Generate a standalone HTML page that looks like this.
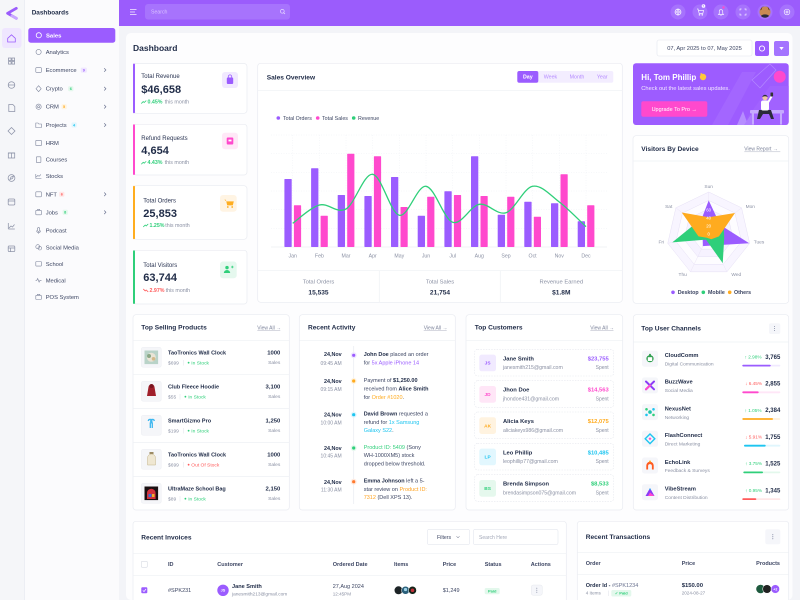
<!DOCTYPE html>
<html><head><meta charset="utf-8"><style>
html,body{margin:0;padding:0;background:#fff;width:800px;height:600px;overflow:hidden;}
svg{display:block;font-family:"Liberation Sans",sans-serif;overflow:hidden;}
</style></head><body>
<svg width="800" height="600" viewBox="0 0 800 600" xmlns="http://www.w3.org/2000/svg">
<defs>
<clipPath id="bn"><rect x="633" y="63.3" width="155.7" height="61.7" rx="3"/></clipPath>
</defs>
<rect width="800" height="600" fill="#f3f4f8"/>
<rect x="0" y="0" width="24.5" height="600" fill="#f5f6f9"/>
<line x1="24.5" y1="0" x2="24.5" y2="600" stroke="#e8eaf0" stroke-width="0.6"/>
<rect x="25" y="0" width="94" height="600" fill="#fbfbfd"/>
<rect x="119" y="0" width="681" height="26" fill="#9b5cfc"/>
<rect x="126" y="33" width="666.5" height="567" rx="5" fill="#fdfdfe"/>

<!-- logo -->
<path d="M16.3 8.3 L7.6 13.3 L16.3 18.3" fill="none" stroke="#9b5cfc" stroke-width="2.8" stroke-linejoin="round" stroke-linecap="round"/>
<path d="M12 15.8 L16.3 18.3" stroke="#c9a8ff" stroke-width="2.8" stroke-linecap="round"/>

<!-- rail -->
<rect x="2" y="28" width="19.5" height="20" rx="3" fill="#efe6ff"/>
<path d="M7.7 38.3 L11.5 34.8 L15.3 38.3 V42 H7.7 Z" fill="none" stroke="#9b5cfc" stroke-width="0.8"/>
<g fill="none" stroke="#8d93a8" stroke-width="0.75">
<rect x="8.5" y="58" width="2.6" height="2.6"/><rect x="12" y="58" width="2.6" height="2.6"/><rect x="8.5" y="61.5" width="2.6" height="2.6"/><rect x="12" y="61.5" width="2.6" height="2.6"/>
<circle cx="11.5" cy="85" r="3.3"/><line x1="8.2" y1="85" x2="14.8" y2="85"/>
<path d="M8.8 104.5 h4 l2 2 v5 h-6 z"/>
<path d="M11.5 127.5 l3.5 3.5 l-3.5 3.5 l-3.5 -3.5 z"/>
<rect x="8.3" y="153" width="6.4" height="5" /><line x1="11.5" y1="153" x2="11.5" y2="158"/><line x1="8" y1="153" x2="15" y2="153"/>
<circle cx="11.5" cy="178" r="3.4"/><path d="M10 179.5 l1-2.5 l2.5-1 l-1 2.5 z"/>
<rect x="8.2" y="199" width="6.6" height="6" rx="1"/><line x1="8.2" y1="201" x2="14.8" y2="201"/>
<path d="M8.3 229 v-6 M8.3 229 h6.5 M9 228 l2-2 l1.5 1 l2-2.5"/>
<rect x="8.2" y="246" width="6.6" height="5.6" rx="0.8"/><line x1="8.2" y1="248" x2="14.8" y2="248"/><line x1="10.5" y1="248" x2="10.5" y2="251.6"/>
</g>

<!-- sidebar -->
<text x="31.7" y="14.5" font-size="6.4" font-weight="700" fill="#1f2b47">Dashboards</text>
<rect x="28.3" y="28" width="87" height="14.7" rx="2.5" fill="#9b5cff"/>
<circle cx="38.8" cy="35.3" r="2.6" fill="none" stroke="#fff" stroke-width="0.8"/>
<text x="46" y="37.4" font-size="5.9" font-weight="700" fill="#fff">Sales</text>
<g fill="none" stroke="#7d849b" stroke-width="0.6">
<circle cx="38.6" cy="52" r="2.6"/>
<rect x="35.8" y="67.7" width="5.6" height="4.6" rx="0.6"/>
<path d="M38.6 85.7 l2.6 3 l-2.6 3 l-2.6 -3 z"/>
<circle cx="38.6" cy="106.7" r="2.6"/><circle cx="38.6" cy="106.7" r="1"/>
<path d="M35.8 123 h2.2 l0.8 1 h2.6 v3.5 h-5.6 z"/>
<rect x="35.8" y="140.3" width="5.6" height="5.4" rx="0.6"/>
<rect x="36.3" y="156.8" width="4.6" height="5.8" rx="0.6"/>
<path d="M35.8 178.5 v-4.5 M35.8 178.5 h5.6 M36.3 177 l1.5 -1.5 l1.3 0.8 l1.8 -1.8"/>
<rect x="35.8" y="191.8" width="5.6" height="5" rx="0.6"/>
<rect x="35.8" y="210.3" width="5.6" height="4.5" rx="0.6"/><path d="M37.6 210.3 v-1 h2 v1"/>
<rect x="37.5" y="227.6" width="2.2" height="3.8" rx="1.1"/><path d="M36.5 230.5 a2.1 2.1 0 0 0 4.2 0 M38.6 232.6 v1.2"/>
<circle cx="37.8" cy="246.7" r="2"/><circle cx="39.8" cy="248.2" r="1.8"/>
<rect x="35.8" y="261.5" width="5.6" height="4.6" rx="0.6"/>
<path d="M35.6 280.3 h1.2 l0.9 -1.8 l1.4 3.6 l0.9 -1.8 h1.5"/>
<rect x="35.8" y="295.3" width="5.6" height="4.2" rx="0.6"/><path d="M37.4 295.3 v-1 h2.4 v1"/>
</g>
<g font-size="5.8" fill="#3d4663">
<text x="45.7" y="54">Analytics</text>
<text x="45.7" y="72">Ecommerce</text>
<text x="45.7" y="90.7">Crypto</text>
<text x="45.7" y="108.7">CRM</text>
<text x="45.7" y="127">Projects</text>
<text x="45.7" y="145">HRM</text>
<text x="45.7" y="161.7">Courses</text>
<text x="45.7" y="178">Stocks</text>
<text x="45.7" y="196.3">NFT</text>
<text x="45.7" y="214.3">Jobs</text>
<text x="45.7" y="232.7">Podcast</text>
<text x="45.7" y="249.3">Social Media</text>
<text x="45.7" y="266">School</text>
<text x="45.7" y="282.3">Medical</text>
<text x="45.7" y="299">POS System</text>
</g>
<g font-size="3.8" font-weight="700" text-anchor="middle">
<rect x="80.8" y="67.6" width="6" height="5" rx="1" fill="#efe6ff"/><text x="83.8" y="71.4" fill="#9b5cff">9</text>
<rect x="68.2" y="86.2" width="5.2" height="5" rx="1" fill="#e3f8ec"/><text x="70.8" y="90" fill="#2fcf7a">6</text>
<rect x="61.5" y="104.2" width="5.2" height="5" rx="1" fill="#fff3df"/><text x="64.1" y="108" fill="#ffab1f">5</text>
<rect x="71.5" y="122.5" width="5.2" height="5" rx="1" fill="#e0f6fd"/><text x="74.1" y="126.3" fill="#1ec5f0">4</text>
<rect x="59.2" y="191.8" width="5.2" height="5" rx="1" fill="#ffe7e7"/><text x="61.8" y="195.6" fill="#ff5a5a">6</text>
<rect x="62.6" y="209.8" width="5.2" height="5" rx="1" fill="#e3f8ec"/><text x="65.2" y="213.6" fill="#2fcf7a">8</text>
</g>
<g fill="none" stroke="#6b7390" stroke-width="0.7">
<polyline points="104.2,68.2 105.9,70 104.2,71.8"/>
<polyline points="104.2,86.9 105.9,88.7 104.2,90.5"/>
<polyline points="104.2,104.9 105.9,106.7 104.2,108.5"/>
<polyline points="104.2,123.2 105.9,125 104.2,126.8"/>
<polyline points="104.2,192.5 105.9,194.3 104.2,196.1"/>
<polyline points="104.2,210.5 105.9,212.3 104.2,214.1"/>
</g>

<!-- header -->
<g stroke="#fff" stroke-width="0.8" opacity="0.85"><line x1="130" y1="9.5" x2="136.5" y2="9.5"/><line x1="130" y1="12" x2="135" y2="12"/><line x1="130" y1="14.5" x2="136.5" y2="14.5"/></g>
<rect x="145" y="4" width="145" height="15.5" rx="3" fill="#a773fd"/>
<text x="151" y="13.6" font-size="5.2" fill="#d9c4ff">Search</text>
<circle cx="282.3" cy="11.3" r="1.9" fill="none" stroke="#e8dcff" stroke-width="0.7"/><line x1="283.7" y1="12.7" x2="285" y2="14" stroke="#e8dcff" stroke-width="0.7"/>
<g fill="#a672fd">
<circle cx="678" cy="12" r="7.5"/><circle cx="700" cy="12" r="7.5"/><circle cx="721" cy="12" r="7.5"/><circle cx="743" cy="12" r="7.5"/><circle cx="765" cy="12" r="7.5"/><circle cx="787" cy="12" r="7.5"/>
</g>
<g fill="none" stroke="#fff" stroke-width="0.7" opacity="0.9">
<circle cx="678" cy="12" r="3"/><path d="M675 12 h6 M678 9 c-1.5 2 -1.5 4 0 6 c1.5 -2 1.5 -4 0 -6"/>
<path d="M697 9 h1 l1.2 4.5 h3.6 l0.8 -3 h-5"/><circle cx="699.5" cy="14.8" r="0.5"/><circle cx="702.3" cy="14.8" r="0.5"/>
<path d="M718.5 14.5 h5 l-0.8 -1 v-2.2 a1.7 1.7 0 0 0 -3.4 0 v2.2 z M720.5 15.5 h1"/>
<path d="M740 10.5 v-1.5 h1.5 M744.5 9 h1.5 v1.5 M746 13.5 v1.5 h-1.5 M741.5 15 h-1.5 v-1.5"/>
<circle cx="787" cy="12" r="2.8"/><circle cx="787" cy="12" r="1"/>
</g>
<circle cx="703.5" cy="6" r="1.8" fill="#fff"/><text x="703.5" y="7.2" font-size="3" text-anchor="middle" fill="#9b5cfc">5</text>
<circle cx="723.5" cy="7.5" r="1.2" fill="#ff49cd"/>
<circle cx="765" cy="12" r="5.5" fill="#c98a54"/><path d="M760.5 10.5 a4.5 4.5 0 0 1 9 0 l-1 -1 a3.5 3.5 0 0 0 -7 0 z" fill="#3a2418"/><path d="M761 16 a4.5 3 0 0 1 8 0 a5.5 5.5 0 0 1 -8 0z" fill="#2c2c3c"/>

<!-- title row -->
<text x="133" y="51" font-size="8.5" font-weight="700" fill="#1f2b47">Dashboard</text>
<rect x="657" y="40" width="95" height="16" rx="2" fill="#fff" stroke="#e3e6ee" stroke-width="0.6"/>
<text x="704.5" y="50" font-size="5.7" text-anchor="middle" fill="#3d4663">07, Apr 2025 to 07, May 2025</text>
<rect x="755" y="41" width="14" height="15" rx="2" fill="#9b5cff"/>
<circle cx="762" cy="48.5" r="2.6" fill="none" stroke="#fff" stroke-width="0.9"/>
<rect x="774" y="41" width="15" height="15" rx="2" fill="#a474ff"/>
<path d="M779.3 47 h4.4 l-2.2 3 z" fill="#fff"/>

<!-- stat cards -->
<g stroke="#e9ebf1" stroke-width="0.7" fill="#fff">
<rect x="133.5" y="63.5" width="113.5" height="49.8" rx="3"/>
<rect x="133.5" y="124.3" width="113.5" height="50.7" rx="3"/>
<rect x="133.5" y="185.7" width="113.5" height="53.6" rx="3"/>
<rect x="133.5" y="250.3" width="113.5" height="53.7" rx="3"/>
</g>
<rect x="133" y="63.5" width="2" height="49.8" rx="1" fill="#9b5cff"/>
<rect x="133" y="124.3" width="2" height="50.7" rx="1" fill="#ff49cd"/>
<rect x="133" y="185.7" width="2" height="53.6" rx="1" fill="#ffad1f"/>
<rect x="133" y="250.3" width="2" height="53.7" rx="1" fill="#2fcf7a"/>
<g font-size="6" fill="#2a3452">
<text x="141.3" y="78.1">Total Revenue</text>
<text x="141.3" y="139.8">Refund Requests</text>
<text x="143.3" y="202.4">Total Orders</text>
<text x="143.3" y="267.1">Total Visitors</text>
</g>
<g font-size="11" font-weight="700" fill="#1f2b47">
<text x="141.3" y="92.9">$46,658</text>
<text x="141.3" y="153.9">4,654</text>
<text x="143.3" y="216.9">25,853</text>
<text x="143.3" y="281.2">63,744</text>
</g>
<g fill="none" stroke-width="0.8" stroke-linecap="round">
<polyline points="141.5,103.3 143.2,101.6 144.2,102.5 146,100.8" stroke="#2fcf7a"/>
<polyline points="141.5,164 143.2,162.3 144.2,163.2 146,161.5" stroke="#2fcf7a"/>
<polyline points="143.5,226.7 145.2,225 146.2,225.9 148,224.2" stroke="#2fcf7a"/>
<polyline points="143.5,289.2 145.2,290.9 146.2,290 148,291.7" stroke="#ff5a5a"/>
</g>
<g font-size="5.3" font-weight="700">
<text x="147.5" y="103.6" fill="#2fcf7a">0.45%</text>
<text x="147.5" y="164.2" fill="#2fcf7a">4.43%</text>
<text x="149.5" y="226.9" fill="#2fcf7a">1.25%</text>
<text x="149.5" y="291.9" fill="#ff5a5a">2.97%</text>
</g>
<g font-size="5.3" fill="#8a90a3">
<text x="164.7" y="103.6">this month</text>
<text x="164.7" y="164.2">this month</text>
<text x="165.3" y="226.9">this month</text>
<text x="165.7" y="291.9">this month</text>
</g>
<rect x="222" y="72" width="16" height="16" rx="3" fill="#f1e9ff"/>
<rect x="226.8" y="77.5" width="6.4" height="6.5" rx="1" fill="#9b5cff"/>
<path d="M228.3 77.6 v-1 a1.7 1.7 0 0 1 3.4 0 v1" fill="none" stroke="#9b5cff" stroke-width="0.8"/>
<rect x="222" y="132.7" width="16" height="16.6" rx="3" fill="#ffe8f7"/>
<rect x="226.7" y="137.5" width="6.6" height="7" rx="1" fill="#ff49cd"/>
<rect x="228.5" y="139.6" width="3" height="1.8" fill="#fff"/>
<rect x="220" y="195" width="16.7" height="16.7" rx="3" fill="#fff4e3"/>
<path d="M224.3 199.8 h1.6 l1.3 5.6 h5.6 l1 -4 h-7.2 z" fill="#ffad1f"/>
<circle cx="227.8" cy="207" r="0.9" fill="#ffad1f"/><circle cx="232.2" cy="207" r="0.9" fill="#ffad1f"/>
<rect x="220" y="261.5" width="16.7" height="16.7" rx="3" fill="#e5f8ee"/>
<circle cx="227" cy="267.6" r="1.7" fill="#2fcf7a"/><path d="M223.8 273 a3.2 3 0 0 1 6.4 0 z" fill="#2fcf7a"/>
<path d="M231 267 h2.6 M232.3 265.7 v2.6" stroke="#2fcf7a" stroke-width="0.8"/>

<!-- sales overview -->
<rect x="257.7" y="63.3" width="364.6" height="239" rx="3" fill="#fff" stroke="#e9ebf1" stroke-width="0.7"/>
<line x1="257.7" y1="90.7" x2="622.3" y2="90.7" stroke="#eef0f4" stroke-width="0.7"/>
<text x="266.7" y="79.3" font-size="6.6" font-weight="700" fill="#1f2b47">Sales Overview</text>
<rect x="517.3" y="71" width="96" height="11.7" rx="2" fill="#f3edff"/>
<rect x="517.3" y="71" width="21" height="11.7" rx="2" fill="#9b5cff"/>
<g font-size="5.3" text-anchor="middle">
<text x="527.8" y="78.7" fill="#fff" font-weight="700">Day</text>
<text x="550.5" y="78.7" fill="#b68cff">Week</text>
<text x="577" y="78.7" fill="#b68cff">Month</text>
<text x="602.2" y="78.7" fill="#b68cff">Year</text>
</g>
<circle cx="278.3" cy="118" r="1.8" fill="#9b5cff"/><circle cx="317.7" cy="118" r="1.8" fill="#ff49cd"/><circle cx="353.7" cy="118" r="1.8" fill="#2fcf7a"/>
<g font-size="5.3" fill="#3d4663"><text x="283" y="119.9">Total Orders</text><text x="322" y="119.9">Total Sales</text><text x="358" y="119.9">Revenue</text></g>
<g stroke="#eef0f5" stroke-width="0.5" stroke-dasharray="1 1.5">
<line x1="271" y1="135" x2="607" y2="135"/><line x1="271" y1="153.7" x2="607" y2="153.7"/><line x1="271" y1="172.3" x2="607" y2="172.3"/><line x1="271" y1="191" x2="607" y2="191"/><line x1="271" y1="209.7" x2="607" y2="209.7"/><line x1="271" y1="228.3" x2="607" y2="228.3"/>
<line x1="292.7" y1="135" x2="292.7" y2="247"/><line x1="319.4" y1="135" x2="319.4" y2="247"/><line x1="346" y1="135" x2="346" y2="247"/><line x1="372.7" y1="135" x2="372.7" y2="247"/><line x1="399.3" y1="135" x2="399.3" y2="247"/><line x1="426" y1="135" x2="426" y2="247"/><line x1="452.7" y1="135" x2="452.7" y2="247"/><line x1="479.3" y1="135" x2="479.3" y2="247"/><line x1="506" y1="135" x2="506" y2="247"/><line x1="532.6" y1="135" x2="532.6" y2="247"/><line x1="559.3" y1="135" x2="559.3" y2="247"/><line x1="586" y1="135" x2="586" y2="247"/>
</g>
<line x1="271" y1="247" x2="607" y2="247" stroke="#e6e8ee" stroke-width="0.6"/>
<g fill="#9b5cff">
<rect x="284.4" y="179" width="7.3" height="68" rx="0.6"/>
<rect x="311.1" y="168.3" width="7.3" height="78.7" rx="0.6"/>
<rect x="337.7" y="195" width="7.3" height="52" rx="0.6"/>
<rect x="364.4" y="196" width="7.3" height="51" rx="0.6"/>
<rect x="391" y="177" width="7.3" height="70" rx="0.6"/>
<rect x="417.7" y="215.7" width="7.3" height="31.3" rx="0.6"/>
<rect x="444.4" y="191.3" width="7.3" height="55.7" rx="0.6"/>
<rect x="471" y="156.3" width="7.3" height="90.7" rx="0.6"/>
<rect x="497.7" y="214.7" width="7.3" height="32.3" rx="0.6"/>
<rect x="524.3" y="201.7" width="7.3" height="45.3" rx="0.6"/>
<rect x="551" y="203.3" width="7.3" height="43.7" rx="0.6"/>
<rect x="577.7" y="221.3" width="7.3" height="25.7" rx="0.6"/>
</g>
<g fill="#ff49cd">
<rect x="293.9" y="205.3" width="7.2" height="41.7" rx="0.6"/>
<rect x="320.6" y="215.7" width="7.2" height="31.3" rx="0.6"/>
<rect x="347.2" y="153.7" width="7.2" height="93.3" rx="0.6"/>
<rect x="373.9" y="156.3" width="7.2" height="90.7" rx="0.6"/>
<rect x="400.5" y="207" width="7.2" height="40" rx="0.6"/>
<rect x="427.2" y="196.7" width="7.2" height="50.3" rx="0.6"/>
<rect x="453.9" y="195" width="7.2" height="52" rx="0.6"/>
<rect x="480.5" y="196" width="7.2" height="51" rx="0.6"/>
<rect x="507.2" y="196.7" width="7.2" height="50.3" rx="0.6"/>
<rect x="533.8" y="216.7" width="7.2" height="30.3" rx="0.6"/>
<rect x="560.5" y="174.3" width="7.2" height="72.7" rx="0.6"/>
<rect x="587.2" y="205.3" width="7.2" height="41.7" rx="0.6"/>
</g>
<path d="M292.7,223.3 C297.14,220.25 310.51,207.38 319.4,205 C328.29,202.62 337.11,214.12 346,209 C354.89,203.88 363.81,173.25 372.7,174.3 C381.59,175.35 390.41,213.3 399.3,215.3 C408.19,217.3 417.11,185.13 426,186.3 C434.89,187.47 443.81,219.3 452.7,222.3 C461.59,225.3 470.41,205.9 479.3,204.3 C488.19,202.7 497.11,215.7 506,212.7 C514.89,209.7 523.71,188.08 532.6,186.3 C541.49,184.52 550.41,195.27 559.3,202 C568.19,208.73 581.56,222.58 586,226.7" fill="none" stroke="#2fcf7a" stroke-width="1.3"/>
<g font-size="5.2" fill="#8a90a3" text-anchor="middle">
<text x="292.7" y="257.5">Jan</text><text x="319.4" y="257.5">Feb</text><text x="346" y="257.5">Mar</text><text x="372.7" y="257.5">Apr</text><text x="399.3" y="257.5">May</text><text x="426" y="257.5">Jun</text><text x="452.7" y="257.5">Jul</text><text x="479.3" y="257.5">Aug</text><text x="506" y="257.5">Sep</text><text x="532.6" y="257.5">Oct</text><text x="559.3" y="257.5">Nov</text><text x="586" y="257.5">Dec</text>
</g>
<g stroke="#eef0f4" stroke-width="0.7">
<line x1="257.7" y1="270.7" x2="622.3" y2="270.7"/><line x1="379.3" y1="270.7" x2="379.3" y2="302.3"/><line x1="500.3" y1="270.7" x2="500.3" y2="302.3"/>
</g>
<g font-size="5.8" fill="#8a90a3" text-anchor="middle">
<text x="318.5" y="283.7">Total Orders</text><text x="440" y="283.7">Total Sales</text><text x="561.3" y="283.7">Revenue Earned</text>
</g>
<g font-size="6.6" font-weight="700" fill="#1f2b47" text-anchor="middle">
<text x="318.5" y="294.7">15,535</text><text x="440" y="294.7">21,754</text><text x="561.3" y="294.7">$1.8M</text>
</g>

<!-- banner -->
<rect x="633" y="63.3" width="155.7" height="61.7" rx="3" fill="#9d5cff"/>
<g clip-path="url(#bn)">
<polygon points="712,125 742,72 756,72 728,125" fill="#a56bff" opacity="0.7"/>
<polygon points="742,125 770,86 790,86 790,125" fill="#a264ff" opacity="0.8"/>
<polygon points="752,80 770,64 776,70 760,88" fill="none" stroke="#b58cff" stroke-width="0.6"/>
<circle cx="779.7" cy="76.7" r="6" fill="#ff49cd"/>
<polygon points="737,125 743,111 748,125" fill="#b68dff"/>
<polygon points="744,125 752,113 754,125" fill="#ad7cff"/>
<rect x="750" y="110" width="34" height="3.5" rx="1" fill="#c6aaff"/>
<rect x="752" y="113.5" width="2" height="11" fill="#c6aaff"/><rect x="780" y="113.5" width="2" height="11" fill="#c6aaff"/>
<path d="M759 110 h12 l3 9 h-3 l-2 -5 h-6 l-3 5 h-3 z" fill="#2b2b3b"/>
<rect x="761" y="100.5" width="8" height="10" rx="2" fill="#fff"/>
<line x1="768" y1="102.5" x2="771.5" y2="96.5" stroke="#fff" stroke-width="2" stroke-linecap="round"/>
<rect x="770.5" y="92.5" width="2.6" height="4" rx="0.5" fill="#333"/>
<circle cx="765" cy="97.6" r="2.6" fill="#f0c9a5"/>
<path d="M762.4 97.3 a2.6 2.6 0 0 1 5.2 0 a3 2 0 0 0 -5.2 0z" fill="#2b2b3b"/>
</g>
<text x="641.3" y="80" font-size="8" font-weight="700" fill="#fff">Hi, Tom Phillip</text>
<circle cx="703" cy="77" r="3.2" fill="#ffc83d"/><rect x="700.5" y="73" width="1.4" height="3.5" rx="0.7" fill="#ffc83d"/>
<text x="641.3" y="90" font-size="5.7" fill="#f3eaff">Check out the latest sales updates.</text>
<rect x="641.3" y="101.3" width="66" height="15.4" rx="2" fill="#ff49cd"/>
<text x="674.3" y="111" font-size="5.5" fill="#fff" text-anchor="middle">Upgrade To Pro →</text>

<!-- visitors -->
<rect x="633" y="135.7" width="155.7" height="167.6" rx="3" fill="#fff" stroke="#e9ebf1" stroke-width="0.7"/>
<text x="641.3" y="151" font-size="6.6" font-weight="700" fill="#1f2b47">Visitors By Device</text>
<text x="744.3" y="150.5" font-size="5" fill="#7d849b">View Report →</text>
<line x1="744.3" y1="151.8" x2="780.3" y2="151.8" stroke="#9aa0b3" stroke-width="0.4"/>
<line x1="633" y1="161" x2="788.7" y2="161" stroke="#eef0f4" stroke-width="0.7"/>
<g transform="translate(708.7,234)">
<polygon points="0,-42 32.84,-26.19 40.95,9.35 18.22,37.84 -18.22,37.84 -40.95,9.35 -32.84,-26.19" fill="#f8f5ff" stroke="#e6e0f5" stroke-width="0.5"/>
<polygon points="0,-42 32.84,-26.19 40.95,9.35 18.22,37.84 -18.22,37.84 -40.95,9.35 -32.84,-26.19" transform="scale(0.8)" fill="#fdfcff" stroke="#e6e0f5" stroke-width="0.62"/>
<polygon points="0,-42 32.84,-26.19 40.95,9.35 18.22,37.84 -18.22,37.84 -40.95,9.35 -32.84,-26.19" transform="scale(0.6)" fill="#f6f2ff" stroke="#e6e0f5" stroke-width="0.83"/>
<polygon points="0,-42 32.84,-26.19 40.95,9.35 18.22,37.84 -18.22,37.84 -40.95,9.35 -32.84,-26.19" transform="scale(0.4)" fill="#fdfcff" stroke="#e6e0f5" stroke-width="1.25"/>
<polygon points="0,-42 32.84,-26.19 40.95,9.35 18.22,37.84 -18.22,37.84 -40.95,9.35 -32.84,-26.19" transform="scale(0.2)" fill="#f6f2ff" stroke="#e6e0f5" stroke-width="2.5"/>
<g stroke="#ebe5f7" stroke-width="0.5">
<line x1="0" y1="0" x2="0" y2="-42"/><line x1="0" y1="0" x2="32.84" y2="-26.19"/><line x1="0" y1="0" x2="40.95" y2="9.35"/><line x1="0" y1="0" x2="18.22" y2="37.84"/><line x1="0" y1="0" x2="-18.22" y2="37.84"/><line x1="0" y1="0" x2="-40.95" y2="9.35"/><line x1="0" y1="0" x2="-32.84" y2="-26.19"/>
</g>
</g>
<polygon points="708.7,200.4 720.19,224.83 749.24,243.25 714.17,245.35 702.87,246.11 702.56,235.4 698.85,226.14" fill="#9b5cff"/>
<polygon points="708.7,227.7 723.48,222.22 724.26,237.55 722.73,263.14 705.97,239.68 672.26,242.32 695.57,223.53" fill="#2fcf7a"/>
<polygon points="708.7,217.2 734.97,213.05 718.94,236.34 711.25,239.3 706.88,237.78 698.46,236.34 681.77,212.53" fill="#ffab1f"/>
<g font-size="4.3" fill="#fff" text-anchor="middle">
<text x="708.7" y="211.5">60</text><text x="708.7" y="219.5">40</text><text x="708.7" y="227.5">20</text><text x="708.7" y="235.5">0</text>
</g>
<g font-size="4.8" fill="#8a90a3" text-anchor="middle">
<text x="708.7" y="188">Sun</text><text x="750.3" y="208">Mon</text><text x="759" y="243.4">Tues</text><text x="736.3" y="276">Wed</text><text x="682.7" y="276">Thu</text><text x="661.3" y="243.4">Fri</text><text x="668.7" y="208">Sat</text>
</g>
<circle cx="673" cy="292.3" r="1.8" fill="#9b5cff"/><circle cx="703.3" cy="292.3" r="1.8" fill="#2fcf7a"/><circle cx="729.7" cy="292.3" r="1.8" fill="#ffab1f"/>
<g font-size="5.3" fill="#3d4663" font-weight="700"><text x="677.7" y="294.2">Desktop</text><text x="708" y="294.2">Mobile</text><text x="734" y="294.2">Others</text></g>

<!-- row 2 cards -->
<g fill="#fff" stroke="#e9ebf1" stroke-width="0.7">
<rect x="133" y="314.7" width="156.3" height="195.3" rx="3"/>
<rect x="299.3" y="314.7" width="156" height="195.3" rx="3"/>
<rect x="466" y="314.7" width="156.7" height="195.3" rx="3"/>
<rect x="633.3" y="314.7" width="155.4" height="195.3" rx="3"/>
</g>
<g stroke="#eef0f4" stroke-width="0.7">
<line x1="133" y1="340.3" x2="289.3" y2="340.3"/><line x1="299.3" y1="340.3" x2="455.3" y2="340.3"/><line x1="466" y1="340.3" x2="622.7" y2="340.3"/><line x1="633.3" y1="342" x2="788.7" y2="342"/>
</g>
<g font-size="6.6" font-weight="700" fill="#1f2b47">
<text x="141.3" y="329.6">Top Selling Products</text>
<text x="308" y="329.6">Recent Activity</text>
<text x="474.7" y="329.6">Top Customers</text>
<text x="641.3" y="330.6">Top User Channels</text>
</g>
<g font-size="5" fill="#7d849b">
<text x="257.3" y="329.4">View All →</text><text x="423.7" y="329.4">View All →</text><text x="590.3" y="329.4">View All →</text>
</g>
<g stroke="#9aa0b3" stroke-width="0.4"><line x1="257.3" y1="330.7" x2="280.3" y2="330.7"/><line x1="423.7" y1="330.7" x2="446.7" y2="330.7"/><line x1="590.3" y1="330.7" x2="613.5" y2="330.7"/></g>
<rect x="769" y="323.3" width="11.3" height="10.7" rx="2" fill="#f5f6fa"/>
<g fill="#6b7390"><circle cx="774.6" cy="326.6" r="0.45"/><circle cx="774.6" cy="328.6" r="0.45"/><circle cx="774.6" cy="330.6" r="0.45"/></g>

<!-- top selling -->
<g stroke="#eef0f4" stroke-width="0.7">
<line x1="133" y1="374.3" x2="289.3" y2="374.3"/><line x1="133" y1="408.5" x2="289.3" y2="408.5"/><line x1="133" y1="442.5" x2="289.3" y2="442.5"/><line x1="133" y1="476.5" x2="289.3" y2="476.5"/>
</g>
<g fill="#f5f6f9" stroke="#eceef3" stroke-width="0.5">
<rect x="141.3" y="347.3" width="20" height="20" rx="2"/><rect x="141.3" y="381.3" width="20" height="20" rx="2"/><rect x="141.3" y="415.3" width="20" height="20" rx="2"/><rect x="141.3" y="449.3" width="20" height="20" rx="2"/><rect x="141.3" y="483.3" width="20" height="20" rx="2"/>
</g>
<rect x="144.5" y="350.5" width="13.6" height="13.6" fill="#b9d3c8"/><circle cx="151.3" cy="357.3" r="4.5" fill="#e9e4d6"/><circle cx="149" cy="356" r="2" fill="#8aa886"/><circle cx="153.5" cy="358.8" r="1.8" fill="#d4b98a"/>
<path d="M147 396 l1.5 -9 a3 3 0 0 1 3 -2.5 a3 3 0 0 1 3 2.5 l1.5 9 z" fill="#a0202b"/><circle cx="151.5" cy="386" r="2" fill="#7a1520"/>
<path d="M148.3 421 a1.8 1.8 0 1 1 2 2 v5" fill="none" stroke="#3fb7ef" stroke-width="1.3"/><path d="M154.3 421 a1.8 1.8 0 1 0 -2 2 v5" fill="none" stroke="#3fb7ef" stroke-width="1.3"/>
<path d="M147.5 465 v-7 a4 4 0 0 1 8 0 v7 z" fill="#efe7d2" stroke="#c4b48a" stroke-width="0.5"/><rect x="149.5" y="452" width="4" height="2" fill="#9c8b64"/>
<rect x="144.5" y="486.5" width="13.6" height="13.6" fill="#1a1012"/><path d="M147 499 v-6 a4.3 4.3 0 0 1 8.6 0 v6 z" fill="#d2323e"/><rect x="148.5" y="494" width="3" height="3" fill="#3b6fd6"/><rect x="152" y="494" width="2.5" height="3" fill="#f0b429"/>
<g font-size="5.5" font-weight="700" fill="#1f2b47">
<text x="168" y="354.6">TaoTronics Wall Clock</text><text x="168" y="388.6">Club Fleece Hoodie</text><text x="168" y="422.6">SmartGizmo Pro</text><text x="168" y="456.6">TaoTronics Wall Clock</text><text x="168" y="490.6">UltraMaze School Bag</text>
</g>
<g font-size="4.9" fill="#8a90a3">
<text x="168" y="364.4">$699</text><text x="168" y="398.4">$55</text><text x="168" y="432.4">$199</text><text x="168" y="466.4">$699</text><text x="168" y="500.4">$89</text>
</g>
<g stroke="#dfe2ea" stroke-width="0.5">
<line x1="183.5" y1="360" x2="183.5" y2="365.5"/><line x1="180" y1="394" x2="180" y2="399.5"/><line x1="183.5" y1="428" x2="183.5" y2="433.5"/><line x1="183.5" y1="462" x2="183.5" y2="467.5"/><line x1="180" y1="496" x2="180" y2="501.5"/>
</g>
<circle cx="188.6" cy="362.7" r="0.9" fill="#2fcf7a"/><circle cx="185.4" cy="396.7" r="0.9" fill="#2fcf7a"/><circle cx="188.6" cy="430.7" r="0.9" fill="#2fcf7a"/><circle cx="188.6" cy="464.7" r="0.9" fill="#ff5a5a"/><circle cx="185.4" cy="498.7" r="0.9" fill="#2fcf7a"/>
<g font-size="4.9">
<text x="191.3" y="364.4" fill="#2fcf7a">In Stock</text><text x="188.2" y="398.4" fill="#2fcf7a">In Stock</text><text x="191.3" y="432.4" fill="#2fcf7a">In Stock</text><text x="191.3" y="466.4" fill="#ff5a5a">Out Of Stock</text><text x="188.2" y="500.4" fill="#2fcf7a">In Stock</text>
</g>
<g font-size="5.9" font-weight="700" fill="#1f2b47" text-anchor="end">
<text x="280.3" y="354.7">1000</text><text x="280.3" y="388.7">3,100</text><text x="280.3" y="422.7">1,250</text><text x="280.3" y="456.7">1000</text><text x="280.3" y="490.7">2,150</text>
</g>
<g font-size="4.9" fill="#8a90a3" text-anchor="end">
<text x="280.3" y="363.9">Sales</text><text x="280.3" y="397.9">Sales</text><text x="280.3" y="431.9">Sales</text><text x="280.3" y="465.9">Sales</text><text x="280.3" y="499.9">Sales</text>
</g>

<!-- recent activity -->
<line x1="353.7" y1="346" x2="353.7" y2="504" stroke="#e8eaf0" stroke-width="0.7"/>
<circle cx="353.7" cy="355.3" r="3" fill="#efe6ff"/><circle cx="353.7" cy="355.3" r="1.6" fill="#9b5cff"/>
<circle cx="353.7" cy="381" r="3" fill="#fff3df"/><circle cx="353.7" cy="381" r="1.6" fill="#ffab1f"/>
<circle cx="353.7" cy="414.7" r="3" fill="#e0f6fd"/><circle cx="353.7" cy="414.7" r="1.6" fill="#1ec5f0"/>
<circle cx="353.7" cy="448" r="3" fill="#e3f8ec"/><circle cx="353.7" cy="448" r="1.6" fill="#2fcf7a"/>
<circle cx="353.7" cy="481.7" r="3" fill="#ffeadf"/><circle cx="353.7" cy="481.7" r="1.6" fill="#ff7a2f"/>
<g font-size="5.4" font-weight="700" fill="#1f2b47" text-anchor="end">
<text x="341.7" y="356.2">24,Nov</text><text x="341.7" y="382.9">24,Nov</text><text x="341.7" y="416.6">24,Nov</text><text x="341.7" y="449.9">24,Nov</text><text x="341.7" y="483.9">24,Nov</text>
</g>
<g font-size="5" fill="#8a90a3" text-anchor="end">
<text x="341.7" y="365">09:45 AM</text><text x="341.7" y="391">09:15 AM</text><text x="341.7" y="424.4">10:00 AM</text><text x="341.7" y="457.4">10:45 AM</text><text x="341.7" y="491.7">11:30 AM</text>
</g>
<g font-size="5.5" fill="#3d4663">
<text x="363.7" y="356.2"><tspan font-weight="700" fill="#1f2b47">John Doe</tspan> placed an order</text>
<text x="363.7" y="364.6">for <tspan fill="#9b5cff">5x Apple iPhone 14</tspan></text>
<text x="363.7" y="382.2">Payment of <tspan font-weight="700" fill="#1f2b47">$1,250.00</tspan></text>
<text x="363.7" y="390.6">received from <tspan font-weight="700" fill="#1f2b47">Alice Smith</tspan></text>
<text x="363.7" y="398.9">for <tspan fill="#ffab1f">Order #1020</tspan>.</text>
<text x="363.7" y="415.6"><tspan font-weight="700" fill="#1f2b47">David Brown</tspan> requested a</text>
<text x="363.7" y="423.9">refund for <tspan fill="#1ec5f0">1x Samsung</tspan></text>
<text x="363.7" y="432.2"><tspan fill="#1ec5f0">Galaxy S22</tspan>.</text>
<text x="363.7" y="448.9"><tspan fill="#2fcf7a">Product ID: 5409</tspan> (Sony</text>
<text x="363.7" y="457.2">WH-1000XM5) stock</text>
<text x="363.7" y="465.6">dropped below threshold.</text>
<text x="363.7" y="482.6"><tspan font-weight="700" fill="#1f2b47">Emma Johnson</tspan> left a 5-</text>
<text x="363.7" y="490.9">star review on <tspan fill="#ffa21f">Product ID:</tspan></text>
<text x="363.7" y="499.2"><tspan fill="#ffa21f">7312</tspan> (Dell XPS 13).</text>
</g>

<!-- top customers -->
<g fill="none" stroke="#e6e8ee" stroke-width="0.6" stroke-dasharray="1.5 1.2">
<rect x="474.7" y="349.3" width="139" height="26.7" rx="3"/><rect x="474.7" y="380.7" width="139" height="26.7" rx="3"/><rect x="474.7" y="412" width="139" height="26.7" rx="3"/><rect x="474.7" y="443.3" width="139" height="26.7" rx="3"/><rect x="474.7" y="474.7" width="139" height="26.7" rx="3"/>
</g>
<rect x="479.3" y="354.6" width="16.7" height="16.7" rx="2.5" fill="#f1eaff"/>
<rect x="479.3" y="386" width="16.7" height="16.7" rx="2.5" fill="#ffe6f7"/>
<rect x="479.3" y="417.3" width="16.7" height="16.7" rx="2.5" fill="#fff3e0"/>
<rect x="479.3" y="448.6" width="16.7" height="16.7" rx="2.5" fill="#e2f7fe"/>
<rect x="479.3" y="480" width="16.7" height="16.7" rx="2.5" fill="#e5f8ed"/>
<g font-size="4.8" font-weight="700" text-anchor="middle">
<text x="487.6" y="364.6" fill="#9b5cff">JS</text><text x="487.6" y="396" fill="#ff49cd">JD</text><text x="487.6" y="427.3" fill="#ffab1f">AK</text><text x="487.6" y="458.6" fill="#1ec5f0">LP</text><text x="487.6" y="490" fill="#2fcf7a">BS</text>
</g>
<g font-size="5.8" font-weight="700" fill="#1f2b47">
<text x="503" y="360.3">Jane Smith</text><text x="503" y="391.7">Jhon Doe</text><text x="503" y="423">Alicia Keys</text><text x="503" y="454.3">Leo Phillip</text><text x="503" y="485.7">Brenda Simpson</text>
</g>
<g font-size="5.2" fill="#8a90a3">
<text x="503" y="369.2">janesmith215@gmail.com</text><text x="503" y="400.6">jhondoe431@gmail.com</text><text x="503" y="431.9">aliciakeys986@gmail.com</text><text x="503" y="463.2">leophillip77@gmail.com</text><text x="503" y="494.6">brendasimpson075@gmail.com</text>
</g>
<g font-size="5.8" font-weight="700" text-anchor="end">
<text x="608.7" y="360.3" fill="#9b5cff">$23,755</text><text x="608.7" y="391.7" fill="#ff49cd">$14,563</text><text x="608.7" y="423" fill="#ffab1f">$12,075</text><text x="608.7" y="454.3" fill="#1ec5f0">$10,485</text><text x="608.7" y="485.7" fill="#2fcf7a">$8,533</text>
</g>
<g font-size="5" fill="#8a90a3" text-anchor="end">
<text x="608.7" y="369.1">Spent</text><text x="608.7" y="400.5">Spent</text><text x="608.7" y="431.8">Spent</text><text x="608.7" y="463.1">Spent</text><text x="608.7" y="494.5">Spent</text>
</g>

<!-- top user channels -->
<g fill="#f5f6fa">
<rect x="642" y="350.7" width="16" height="16" rx="2.5"/><rect x="642" y="377.4" width="16" height="16" rx="2.5"/><rect x="642" y="404.1" width="16" height="16" rx="2.5"/><rect x="642" y="430.8" width="16" height="16" rx="2.5"/><rect x="642" y="457.5" width="16" height="16" rx="2.5"/><rect x="642" y="484.2" width="16" height="16" rx="2.5"/>
</g>
<circle cx="650" cy="358.7" r="3.6" fill="#2e9e4e"/><rect x="647.8" y="357.2" width="4.4" height="3.8" fill="#fff"/><circle cx="650" cy="354.8" r="1" fill="#2e9e4e"/>
<path d="M646 381.5 l8 7.8 M654 381.5 l-8 7.8" stroke="#8b3cf7" stroke-width="2" stroke-linecap="round"/><path d="M646 389.3 l4 -3.9" stroke="#ff49cd" stroke-width="2" stroke-linecap="round"/>
<circle cx="650" cy="412.1" r="1.8" fill="#1ec5a8"/><circle cx="646.5" cy="409.3" r="1.3" fill="#2fcf7a"/><circle cx="653.5" cy="409.3" r="1.3" fill="#1ec5f0"/><circle cx="646.5" cy="414.9" r="1.3" fill="#1ec5f0"/><circle cx="653.5" cy="414.9" r="1.3" fill="#2fcf7a"/>
<path d="M650 434 l4.8 4.8 l-4.8 4.8 l-4.8 -4.8 z" fill="none" stroke="#1ec5f0" stroke-width="1.4"/><path d="M648.5 438.8 l1.5 -1.5 l1.5 1.5 l-1.5 1.5 z" fill="#ff49cd"/>
<path d="M646.3 469.5 v-4 a3.7 3.7 0 0 1 7.4 0 v4 h-1.8 v-3.5 a1.9 1.9 0 0 0 -3.8 0 v3.5 z" fill="#ff5a1f"/><circle cx="650" cy="461.5" r="1" fill="#ffab1f"/>
<path d="M645.5 496 l4.5 -8 l4.5 8 z" fill="#8b3cf7"/><path d="M648 496 l2 -3.5 l4.5 3.5 z" fill="#ff49cd"/><path d="M650 488 l1 1.8 l-2 0 z" fill="#1ec5f0"/>
<g font-size="5.7" font-weight="700" fill="#1f2b47">
<text x="664.7" y="357">CloudComm</text><text x="664.7" y="383.7">BuzzWave</text><text x="664.7" y="410.4">NexusNet</text><text x="664.7" y="437.1">FlashConnect</text><text x="664.7" y="463.8">EchoLink</text><text x="664.7" y="490.5">VibeStream</text>
</g>
<g font-size="4.9" fill="#8a90a3">
<text x="664.7" y="365.4">Digital Communication</text><text x="664.7" y="392.1">Social Media</text><text x="664.7" y="418.8">Networking</text><text x="664.7" y="445.5">Direct Marketing</text><text x="664.7" y="472.2">Feedback &amp; Surveys</text><text x="664.7" y="498.9">Content Distribution</text>
</g>
<g font-size="4.7" text-anchor="end">
<text x="761.5" y="358.4" fill="#2fcf7a">↑ 2.98%</text><text x="762" y="385.1" fill="#ff5a5a">↓ 6.45%</text><text x="761.5" y="411.8" fill="#2fcf7a">↑ 1.05%</text><text x="762" y="438.5" fill="#ff5a5a">↓ 5.91%</text><text x="762" y="465.2" fill="#2fcf7a">↑ 3.75%</text><text x="762" y="491.9" fill="#2fcf7a">↑ 0.95%</text>
</g>
<g font-size="6" font-weight="700" fill="#1f2b47" text-anchor="end">
<text x="780.3" y="358.8">3,765</text><text x="780.3" y="385.5">2,855</text><text x="780.3" y="412.2">2,384</text><text x="780.3" y="438.9">1,755</text><text x="780.3" y="465.6">1,525</text><text x="780.3" y="492.3">1,345</text>
</g>
<rect x="742.3" y="364.7" width="38" height="1.8" rx="0.9" fill="#f0e9ff"/><rect x="742.3" y="364.7" width="28.4" height="1.8" rx="0.9" fill="#9b5cff"/>
<rect x="742.3" y="391.4" width="38" height="1.8" rx="0.9" fill="#ffe6f7"/><rect x="742.3" y="391.4" width="16.4" height="1.8" rx="0.9" fill="#ff49cd"/>
<rect x="742.3" y="418.1" width="38" height="1.8" rx="0.9" fill="#fff1dc"/><rect x="742.3" y="418.1" width="30.7" height="1.8" rx="0.9" fill="#ffab1f"/>
<rect x="744" y="444.8" width="36.3" height="1.8" rx="0.9" fill="#e0f6fd"/><rect x="744" y="444.8" width="21.7" height="1.8" rx="0.9" fill="#1ec5f0"/>
<rect x="743.3" y="471.5" width="37" height="1.8" rx="0.9" fill="#e3f8ec"/><rect x="743.3" y="471.5" width="19.7" height="1.8" rx="0.9" fill="#2fcf7a"/>
<rect x="742.3" y="498.2" width="38" height="1.8" rx="0.9" fill="#ffe7e7"/><rect x="742.3" y="498.2" width="14" height="1.8" rx="0.9" fill="#ff5a5a"/>

<!-- invoices -->
<rect x="133" y="521.3" width="433.3" height="90" rx="3" fill="#fff" stroke="#e9ebf1" stroke-width="0.7"/>
<text x="141.3" y="539.3" font-size="6.6" font-weight="700" fill="#1f2b47">Recent Invoices</text>
<rect x="427.3" y="529.3" width="42.4" height="15.4" rx="2" fill="#fff" stroke="#e3e6ee" stroke-width="0.6"/>
<text x="437" y="539" font-size="5.2" fill="#3d4663">Filters</text>
<polyline points="456.5,536.3 458,537.8 459.5,536.3" fill="none" stroke="#3d4663" stroke-width="0.5"/>
<rect x="473.3" y="529.3" width="84.7" height="15.4" rx="2" fill="#fff" stroke="#e3e6ee" stroke-width="0.6"/>
<text x="479" y="538.8" font-size="5" fill="#a3a8b8">Search Here</text>
<line x1="133" y1="553.7" x2="566.3" y2="553.7" stroke="#eef0f4" stroke-width="0.7"/>
<line x1="133" y1="575.3" x2="566.3" y2="575.3" stroke="#eef0f4" stroke-width="0.7"/>
<rect x="141.3" y="561.3" width="6" height="6" rx="1" fill="#fff" stroke="#d8dbe3" stroke-width="0.6"/>
<g font-size="5.5" font-weight="700" fill="#3d4663">
<text x="168" y="566.2">ID</text><text x="217.3" y="566.2">Customer</text><text x="332.7" y="566.2">Ordered Date</text><text x="394" y="566.2">Items</text><text x="442.7" y="566.2">Price</text><text x="484.7" y="566.2">Status</text><text x="530.7" y="566.2">Actions</text>
</g>
<rect x="141.3" y="587.3" width="6" height="6" rx="1" fill="#9b5cff"/>
<polyline points="142.8,590.3 144,591.6 146,589" fill="none" stroke="#fff" stroke-width="0.7"/>
<text x="168" y="592.2" font-size="5.5" fill="#3d4663">#SPK231</text>
<circle cx="223" cy="590.3" r="5.7" fill="#9b5cff"/>
<text x="223" y="591.7" font-size="3.8" font-weight="700" fill="#fff" text-anchor="middle">JS</text>
<text x="232" y="588" font-size="5.6" font-weight="700" fill="#1f2b47">Jane Smith</text>
<text x="232" y="595.7" font-size="4.8" fill="#8a90a3">janesmith213@gmail.com</text>
<text x="332.7" y="588" font-size="5.5" fill="#3d4663">27,Aug 2024</text>
<text x="332.7" y="595.6" font-size="4.6" fill="#8a90a3">12:45PM</text>
<circle cx="398.5" cy="590.3" r="4" fill="#1c2326"/><circle cx="405.5" cy="590.3" r="4" fill="#2a5f7a" stroke="#fff" stroke-width="0.5"/><circle cx="412.5" cy="590.3" r="4" fill="#142318" stroke="#fff" stroke-width="0.5"/>
<circle cx="405.5" cy="589.5" r="1.6" fill="#9fd3e8"/><circle cx="412.5" cy="590.3" r="1.8" fill="#c0303a"/>
<text x="442.7" y="592.2" font-size="5.5" fill="#3d4663">$1,249</text>
<rect x="484.7" y="588" width="15" height="6.3" rx="1.5" fill="#e3f8ec"/>
<text x="492.2" y="592.5" font-size="4" fill="#2fcf7a" text-anchor="middle" font-weight="700">Paid</text>
<rect x="531.3" y="585" width="11" height="10.3" rx="2" fill="#f5f6fa" stroke="#e6e8ee" stroke-width="0.5"/>
<g fill="#6b7390"><circle cx="536.8" cy="588.2" r="0.45"/><circle cx="536.8" cy="590.2" r="0.45"/><circle cx="536.8" cy="592.2" r="0.45"/></g>

<!-- transactions -->
<rect x="577.3" y="521.3" width="211.4" height="90" rx="3" fill="#fff" stroke="#e9ebf1" stroke-width="0.7"/>
<text x="585.7" y="539" font-size="6.6" font-weight="700" fill="#1f2b47">Recent Transactions</text>
<rect x="765.3" y="529.3" width="15" height="15" rx="2" fill="#f5f6fa"/>
<g fill="#6b7390"><circle cx="772.8" cy="534.8" r="0.5"/><circle cx="772.8" cy="536.8" r="0.5"/><circle cx="772.8" cy="538.8" r="0.5"/></g>
<line x1="577.3" y1="552.7" x2="788.7" y2="552.7" stroke="#eef0f4" stroke-width="0.7"/>
<line x1="577.3" y1="574.3" x2="788.7" y2="574.3" stroke="#eef0f4" stroke-width="0.7"/>
<g font-size="5.5" font-weight="700" fill="#3d4663">
<text x="585.7" y="565">Order</text><text x="681.7" y="565">Price</text><text x="780" y="565" text-anchor="end">Products</text>
</g>
<text x="585.7" y="587" font-size="5.5" fill="#1f2b47"><tspan font-weight="700">Order Id - </tspan><tspan fill="#6b7390">#SPK1234</tspan></text>
<text x="585.7" y="594.6" font-size="4.6" fill="#8a90a3">4 Items</text>
<line x1="608.5" y1="590.5" x2="608.5" y2="596" stroke="#dfe2ea" stroke-width="0.5"/>
<rect x="611.3" y="590" width="20" height="6.5" rx="1.5" fill="#e3f8ec"/>
<text x="621.3" y="594.6" font-size="4" fill="#2fcf7a" text-anchor="middle" font-weight="700">✓ Paid</text>
<text x="681.7" y="587" font-size="5.9" font-weight="700" fill="#1f2b47">$150.00</text>
<text x="681.7" y="594.6" font-size="4.6" fill="#8a90a3">2024-08-27</text>
<circle cx="760.5" cy="589" r="4.3" fill="#1e5a3e"/><circle cx="767" cy="589" r="4.3" fill="#222" stroke="#fff" stroke-width="0.5"/><circle cx="775.3" cy="589" r="4.3" fill="#9b5cff" stroke="#fff" stroke-width="0.5"/>
<text x="775.3" y="590.4" font-size="3.6" fill="#fff" text-anchor="middle" font-weight="700">+2</text>
</svg>
</body></html>
